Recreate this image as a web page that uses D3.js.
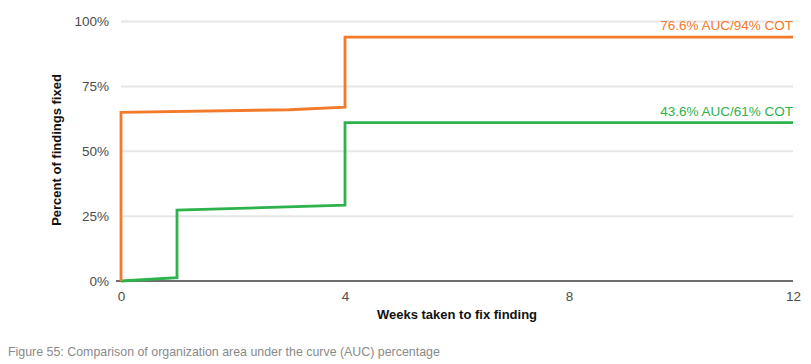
<!DOCTYPE html>
<html>
<head>
<meta charset="utf-8">
<script src="https://cdn.jsdelivr.net/npm/d3@7"></script>
<style>
  body { margin: 0; background: #fff; }
  svg { font-family: "Liberation Sans", Arial, sans-serif; display: block; }
</style>
</head>
<body>
<svg></svg>
<script>
// data
const weeks = [0, 0, 3, 4, 4, 12];
const orangePct = [0, 65, 66, 67, 94, 94];
const greenWeeks = [0, 1, 1, 4, 4, 12];
const greenPct = [0, 1.3, 27.3, 29.2, 61, 61];
const yTicks = [0, 25, 50, 75, 100];
const xTicks = [0, 4, 8, 12];
const labels = ["76.6% AUC/94% COT", "43.6% AUC/61% COT"];
const colors = ["#f37a2b", "#2db24c"];

const width = 811;
const height = 364;
const svg = d3.select("svg").attr("width", width).attr("height", height);

const xScale = d3.scaleLinear().domain([0, 12]).range([121, 793]);
const yScale = d3.scaleLinear().domain([0, 100]).range([281, 21.5]);

// gridlines
svg
  .append("g")
  .selectAll("line")
  .data(yTicks.filter((d) => d > 0))
  .enter()
  .append("line")
  .attr("x1", xScale(0))
  .attr("x2", xScale(12))
  .attr("y1", (d) => yScale(d))
  .attr("y2", (d) => yScale(d))
  .attr("stroke", "#e6e6e6")
  .attr("stroke-width", 2);

// y axis labels
const yAxis = d3
  .axisLeft(yScale)
  .tickValues(yTicks)
  .tickFormat((d) => d + "%")
  .tickSize(0)
  .tickPadding(0);
const yG = svg.append("g").attr("transform", "translate(109,0)").call(yAxis);
yG.select(".domain").remove();
yG.selectAll("text")
  .attr("font-size", 13.5)
  .attr("fill", "#4d4d4d")
  .attr("font-family", "Liberation Sans, Arial, sans-serif");

// x axis
const xAxis = d3.axisBottom(xScale).tickValues(xTicks).tickSize(0).tickPadding(10);
const xG = svg.append("g").attr("transform", "translate(0,281)").call(xAxis);
xG.select(".domain").remove();
xG.selectAll("text")
  .attr("font-size", 13.5)
  .attr("fill", "#4d4d4d")
  .attr("font-family", "Liberation Sans, Arial, sans-serif");
svg
  .append("line")
  .attr("x1", 116)
  .attr("x2", xScale(12))
  .attr("y1", yScale(0))
  .attr("y2", yScale(0))
  .attr("stroke", "#6d6e70")
  .attr("stroke-width", 2);

// lines
const line = d3
  .line()
  .x((d) => xScale(d[0]))
  .y((d) => yScale(d[1]));

const series = [
  d3.zip(weeks, orangePct),
  d3.zip(greenWeeks, greenPct),
];

// green first so orange sits on top
[1, 0].forEach((i) => {
  svg
    .append("path")
    .datum(series[i])
    .attr("d", line)
    .attr("fill", "none")
    .attr("stroke", colors[i])
    .attr("stroke-width", 2.8);
});

// end labels
[0, 1].forEach((i) => {
  const last = series[i][series[i].length - 1];
  svg
    .append("text")
    .attr("x", xScale(last[0]))
    .attr("y", yScale(last[1]) - 7)
    .attr("text-anchor", "end")
    .attr("font-size", 13.5)
    .attr("fill", colors[i])
    .text(labels[i]);
});

// axis titles
svg
  .append("text")
  .attr("transform", "translate(61,150) rotate(-90)")
  .attr("text-anchor", "middle")
  .attr("font-size", 13)
  .attr("font-weight", "bold")
  .attr("fill", "#111")
  .text("Percent of findings fixed");

svg
  .append("text")
  .attr("x", 457)
  .attr("y", 319)
  .attr("text-anchor", "middle")
  .attr("font-size", 13)
  .attr("font-weight", "bold")
  .attr("fill", "#111")
  .text("Weeks taken to fix finding");

// caption
svg
  .append("text")
  .attr("x", 8)
  .attr("y", 356)
  .attr("font-size", 12.4)
  .attr("fill", "#8a8a8a")
  .text("Figure 55: Comparison of organization area under the curve (AUC) percentage");
</script>
</body>
</html>
